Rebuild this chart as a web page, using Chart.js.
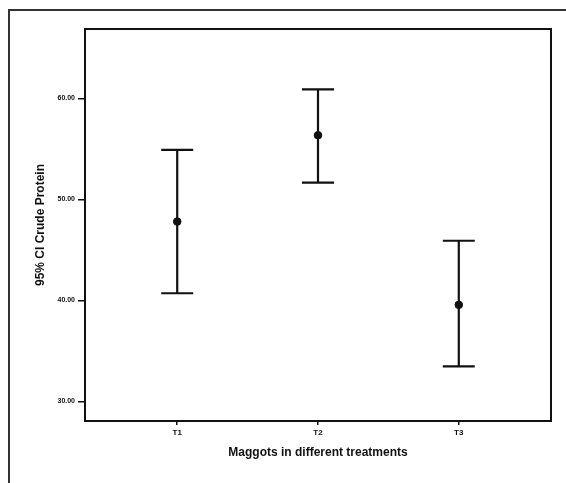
<!DOCTYPE html>
<html>
<head>
<meta charset="utf-8">
<script src="https://cdn.jsdelivr.net/npm/chart.js@4.4.1/dist/chart.umd.min.js"></script>
<style>
  html, body { margin: 0; padding: 0; background: #fff; }
  #wrap { width: 566px; height: 483px; }
</style>
</head>
<body>
<div id="wrap"><canvas id="ciChart" width="566" height="483"></canvas></div>
<script>
// treatments on x axis
const treatments = ['T1', 'T2', 'T3'];
// mean crude protein and 95% CI bounds
const meanValues = [47.8, 56.35, 39.55];
const lowerCI = [40.7, 51.65, 33.45];
const upperCI = [54.9, 60.9, 45.9];
// y axis ticks
const yTickValues = [30, 40, 50, 60];

const FONT = '"Liberation Sans", Arial, sans-serif';

// draws the outer frame, the plot box and the error bars
const errorBarPlugin = {
  id: 'errorBars',
  beforeDraw(chart) {
    const ctx = chart.ctx;
    ctx.save();
    ctx.strokeStyle = '#333';
    ctx.lineWidth = 2;
    ctx.beginPath();
    ctx.moveTo(9, 483);
    ctx.lineTo(9, 10);
    ctx.lineTo(566, 10);
    ctx.stroke();
    ctx.restore();
  },
  afterDatasetsDraw(chart) {
    const ctx = chart.ctx;
    const xScale = chart.scales.x;
    const yScale = chart.scales.y;
    const area = chart.chartArea;
    ctx.save();
    ctx.strokeStyle = '#111';
    ctx.lineWidth = 2;
    ctx.strokeRect(area.left, area.top, area.right - area.left, area.bottom - area.top);

    ctx.lineWidth = 2.2;
    treatments.forEach((t, i) => {
      const x = xScale.getPixelForValue(i + 1);
      const yLo = yScale.getPixelForValue(lowerCI[i]);
      const yHi = yScale.getPixelForValue(upperCI[i]);
      const cap = 16;
      ctx.beginPath();
      ctx.moveTo(x, yLo);
      ctx.lineTo(x, yHi);
      ctx.moveTo(x - cap, yLo);
      ctx.lineTo(x + cap, yLo);
      ctx.moveTo(x - cap, yHi);
      ctx.lineTo(x + cap, yHi);
      ctx.stroke();
    });
    ctx.restore();
  }
};

const ctx = document.getElementById('ciChart').getContext('2d');

new Chart(ctx, {
  type: 'scatter',
  data: {
    datasets: [{
      label: 'Mean',
      data: treatments.map((t, i) => ({ x: i + 1, y: meanValues[i] })),
      backgroundColor: '#111',
      borderColor: '#111',
      pointRadius: 3.8,
      pointHoverRadius: 3.8
    }]
  },
  options: {
    responsive: false,
    animation: false,
    layout: { padding: { left: 0, top: 29, right: 15, bottom: 0 } },
    plugins: {
      legend: { display: false },
      tooltip: { enabled: false }
    },
    scales: {
      x: {
        type: 'linear',
        min: 0.345,
        max: 3.655,
        afterBuildTicks: scale => {
          scale.ticks = treatments.map((t, i) => ({ value: i + 1 }));
        },
        afterFit: scale => { scale.height = 62; },
        ticks: {
          callback: value => treatments[value - 1],
          color: '#111',
          font: { family: FONT, size: 8, weight: 'bold' },
          padding: 3,
          maxRotation: 0
        },
        grid: {
          drawOnChartArea: false,
          drawTicks: true,
          tickLength: 4,
          tickColor: '#111',
          lineWidth: 1.5
        },
        border: { display: false },
        title: {
          display: true,
          text: 'Maggots in different treatments',
          color: '#111',
          font: { family: FONT, size: 12, weight: 'bold' },
          padding: { top: 0, bottom: 23 }
        }
      },
      y: {
        type: 'linear',
        min: 28.05,
        max: 66.87,
        afterBuildTicks: scale => {
          scale.ticks = yTickValues.map(v => ({ value: v }));
        },
        afterFit: scale => { scale.width = 85; },
        ticks: {
          callback: value => value.toFixed(2),
          color: '#111',
          font: { family: FONT, size: 7, weight: 'bold' },
          padding: 3
        },
        grid: {
          drawOnChartArea: false,
          drawTicks: true,
          tickLength: 7,
          tickColor: '#111',
          lineWidth: 1.5
        },
        border: { display: false },
        title: {
          display: true,
          text: '95% CI Crude Protein',
          color: '#111',
          font: { family: FONT, size: 12, weight: 'bold' },
          padding: { top: 33, bottom: 0 }
        }
      }
    }
  },
  plugins: [errorBarPlugin]
});
</script>
</body>
</html>
